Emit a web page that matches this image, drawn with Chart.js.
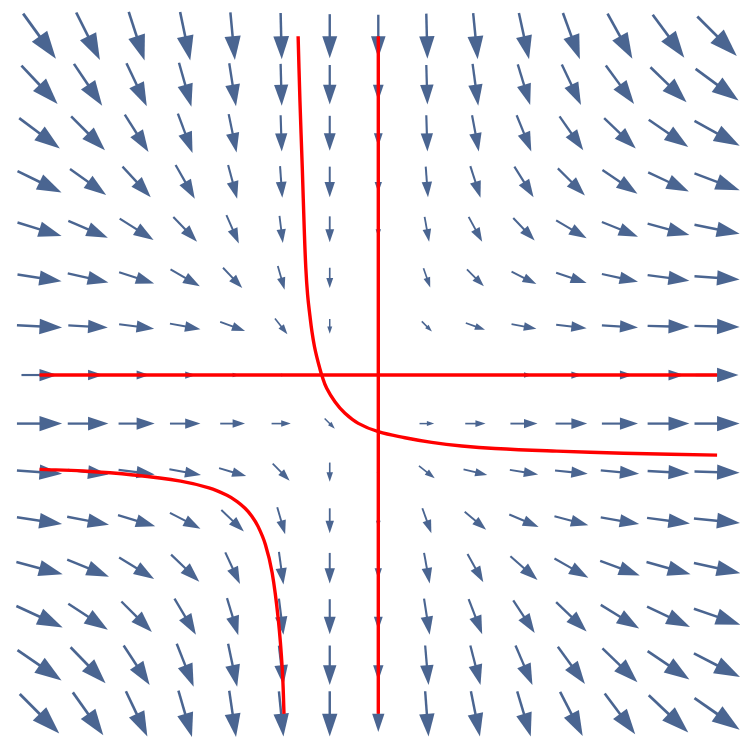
<!DOCTYPE html>
<html>
<head>
<meta charset="utf-8">
<title>Vector field</title>
<script src="https://cdn.jsdelivr.net/npm/chart.js@4.4.1/dist/chart.umd.min.js"></script>
<style>
  html, body { margin: 0; padding: 0; background: #ffffff; }
  #wrap { width: 740px; height: 740px; }
</style>
</head>
<body>
<div id="wrap"><canvas id="field" width="740" height="740"></canvas></div>
<script>
// sample positions of the arrow grid (x left to right, y top to bottom)
var gridX = [-3, -2.57, -2.14, -1.71, -1.29, -0.86, -0.43, 0, 0.43, 0.86, 1.29, 1.71, 2.14, 2.57, 3];
var gridY = [3, 2.57, 2.14, 1.71, 1.29, 0.86, 0.43, 0, -0.43, -0.86, -1.29, -1.71, -2.14, -2.57, -3];

// arrow components per grid point, one row per gridY entry
var fieldU = [
    [0.29, 0.21, 0.14, 0.09, 0.04, 0.01, 0, 0, 0.01, 0.04, 0.09, 0.15, 0.22, 0.28, 0.35],
    [0.32, 0.25, 0.18, 0.11, 0.06, 0.01, 0, 0, 0.01, 0.05, 0.11, 0.17, 0.25, 0.32, 0.38],
    [0.36, 0.30, 0.21, 0.13, 0.07, 0.01, 0, 0, 0.01, 0.06, 0.13, 0.21, 0.28, 0.35, 0.40],
    [0.39, 0.32, 0.25, 0.17, 0.08, 0.02, 0, 0, 0.02, 0.09, 0.17, 0.24, 0.31, 0.36, 0.40],
    [0.39, 0.35, 0.30, 0.21, 0.11, 0.03, 0, 0, 0.04, 0.12, 0.19, 0.27, 0.32, 0.37, 0.40],
    [0.39, 0.36, 0.31, 0.26, 0.17, 0.06, 0, 0, 0.06, 0.15, 0.22, 0.27, 0.32, 0.37, 0.40],
    [0.40, 0.35, 0.31, 0.27, 0.22, 0.11, 0, 0, 0.09, 0.17, 0.22, 0.27, 0.32, 0.37, 0.40],
    [0.32, 0.27, 0.23, 0.19, 0.12, 0.08, 0, 0, 0.01, 0.02, 0.14, 0.19, 0.23, 0.28, 0.38],
    [0.40, 0.36, 0.32, 0.27, 0.22, 0.17, 0.09, 0, 0.13, 0.18, 0.24, 0.28, 0.32, 0.37, 0.40],
    [0.40, 0.36, 0.32, 0.28, 0.24, 0.15, 0, 0, 0.14, 0.21, 0.25, 0.29, 0.34, 0.37, 0.40],
    [0.40, 0.37, 0.33, 0.27, 0.20, 0.07, 0, 0, 0.08, 0.19, 0.26, 0.30, 0.34, 0.38, 0.41],
    [0.41, 0.37, 0.31, 0.25, 0.13, 0.04, 0, 0, 0.05, 0.14, 0.24, 0.30, 0.35, 0.39, 0.41],
    [0.41, 0.35, 0.27, 0.19, 0.10, 0.04, 0, 0, 0.05, 0.12, 0.19, 0.27, 0.34, 0.38, 0.41],
    [0.39, 0.31, 0.23, 0.15, 0.08, 0.04, 0, 0, 0.03, 0.09, 0.15, 0.24, 0.31, 0.37, 0.41],
    [0.35, 0.27, 0.19, 0.12, 0.06, 0.04, 0, 0, 0.03, 0.08, 0.12, 0.20, 0.27, 0.35, 0.40]
];
var fieldV = [
    [-0.40, -0.42, -0.43, -0.43, -0.42, -0.41, -0.39, -0.38, -0.40, -0.41, -0.41, -0.41, -0.40, -0.38, -0.35],
    [-0.34, -0.37, -0.38, -0.39, -0.38, -0.37, -0.35, -0.28, -0.35, -0.37, -0.36, -0.36, -0.34, -0.31, -0.28],
    [-0.27, -0.30, -0.33, -0.35, -0.34, -0.32, -0.31, -0.23, -0.32, -0.32, -0.32, -0.30, -0.27, -0.24, -0.22],
    [-0.19, -0.23, -0.27, -0.30, -0.30, -0.28, -0.27, -0.19, -0.27, -0.28, -0.27, -0.24, -0.21, -0.17, -0.15],
    [-0.12, -0.15, -0.19, -0.22, -0.25, -0.24, -0.23, -0.14, -0.22, -0.22, -0.20, -0.16, -0.13, -0.10, -0.08],
    [-0.06, -0.08, -0.10, -0.15, -0.18, -0.21, -0.18, -0.03, -0.17, -0.15, -0.11, -0.09, -0.07, -0.05, -0.03],
    [-0.02, -0.02, -0.04, -0.05, -0.08, -0.14, -0.13, 0, -0.09, -0.06, -0.04, -0.03, -0.02, -0.01, -0.01],
    [0, 0, 0, 0, 0, 0, 0, 0, 0, 0, 0, 0, 0, 0, 0],
    [0, 0, 0, 0, 0, 0, -0.09, 0, 0, 0, 0, 0, 0, 0, 0],
    [-0.03, -0.04, -0.04, -0.05, -0.07, -0.15, -0.17, -0.08, -0.11, -0.05, -0.04, -0.03, -0.03, -0.02, -0.01],
    [-0.06, -0.07, -0.10, -0.14, -0.19, -0.24, -0.22, -0.12, -0.22, -0.16, -0.11, -0.08, -0.06, -0.05, -0.04],
    [-0.11, -0.15, -0.19, -0.24, -0.28, -0.29, -0.27, -0.19, -0.27, -0.25, -0.21, -0.17, -0.13, -0.11, -0.09],
    [-0.19, -0.23, -0.27, -0.32, -0.33, -0.32, -0.31, -0.23, -0.32, -0.31, -0.29, -0.26, -0.21, -0.18, -0.14],
    [-0.27, -0.32, -0.35, -0.38, -0.38, -0.35, -0.35, -0.27, -0.35, -0.35, -0.35, -0.33, -0.30, -0.25, -0.21],
    [-0.35, -0.38, -0.40, -0.41, -0.41, -0.40, -0.40, -0.32, -0.40, -0.40, -0.40, -0.39, -0.36, -0.33, -0.28]
];

// red overlay curves
var axisLineX = [-3, 3];
var axisLineY = [-3, 3];
var upperCurveX = [-0.71, -0.694, -0.673, -0.656, -0.642, -0.626, -0.605, -0.587, -0.565, -0.542, -0.521, -0.501, -0.457, -0.384, -0.295, -0.177, 0, 0.236, 0.473, 0.739, 1.034, 1.58, 2.17, 3.0];
var upperCurveY = [3.0, 2.43, 1.83, 1.3, 0.95, 0.71, 0.52, 0.38, 0.25, 0.15, 0.07, 0, -0.118, -0.236, -0.339, -0.428, -0.502, -0.555, -0.596, -0.628, -0.651, -0.674, -0.692, -0.709];
var lowerCurveX = [-3.0, -2.61, -2.17, -1.75, -1.5, -1.34, -1.25, -1.18, -1.12, -1.065, -1.0, -0.94, -0.885, -0.85, -0.835];
var lowerCurveY = [-0.835, -0.85, -0.885, -0.94, -1.0, -1.065, -1.12, -1.18, -1.25, -1.34, -1.5, -1.75, -2.17, -2.61, -3.0];

var arrowColor = "#4a6591";
var curveColor = "#ff0000";

function toPoints(xs, ys) {
    var pts = [];
    for (var i = 0; i < xs.length; i++) {
        pts.push({x: xs[i], y: ys[i]});
    }
    return pts;
}

function redLine(points, tension) {
    return {
        data: points,
        showLine: true,
        borderColor: curveColor,
        borderWidth: 3.4,
        pointRadius: 0,
        fill: false,
        tension: tension
    };
}

// arrows go under the red lines
var arrowPlugin = {
    id: 'arrowField',
    beforeDatasetsDraw: function (chart) {
        var ctx = chart.ctx;
        var sx = chart.scales.x;
        var sy = chart.scales.y;
        ctx.save();
        ctx.fillStyle = arrowColor;
        ctx.strokeStyle = arrowColor;
        ctx.lineCap = 'butt';
        ctx.lineJoin = 'miter';
        for (var r = 0; r < gridY.length; r++) {
            for (var c = 0; c < gridX.length; c++) {
                var u = fieldU[r][c];
                var v = fieldV[r][c];
                var x0 = sx.getPixelForValue(gridX[c] - u / 2);
                var y0 = sy.getPixelForValue(gridY[r] - v / 2);
                var x1 = sx.getPixelForValue(gridX[c] + u / 2);
                var y1 = sy.getPixelForValue(gridY[r] + v / 2);
                var dx = x1 - x0, dy = y1 - y0;
                var len = Math.sqrt(dx * dx + dy * dy);
                if (len < 1) continue;
                var ux = dx / len, uy = dy / len;
                var headLen = 0.5 * len;
                var headW = 0.17 * len;
                var bx = x1 - ux * headLen;
                var by = y1 - uy * headLen;

                ctx.lineWidth = 1.0 + 0.032 * len;
                ctx.beginPath();
                ctx.moveTo(x0, y0);
                ctx.lineTo(bx + ux * 2, by + uy * 2);
                ctx.stroke();

                ctx.beginPath();
                ctx.moveTo(x1, y1);
                ctx.lineTo(bx - uy * headW, by + ux * headW);
                ctx.lineTo(bx + uy * headW, by - ux * headW);
                ctx.closePath();
                ctx.fill();
            }
        }
        ctx.restore();
    }
};

var chart = new Chart(document.getElementById("field"), {
    type: 'scatter',
    data: {
        datasets: [
            redLine(toPoints(axisLineX, [0, 0]), 0),
            redLine(toPoints([0, 0], axisLineY), 0),
            redLine(toPoints(upperCurveX, upperCurveY), 0.4),
            redLine(toPoints(lowerCurveX, lowerCurveY), 0.4)
        ]
    },
    options: {
        responsive: false,
        animation: false,
        layout: { padding: 0 },
        plugins: {
            legend: { display: false },
            tooltip: { enabled: false }
        },
        scales: {
            x: { type: 'linear', min: -3.35, max: 3.203, display: false },
            y: { type: 'linear', min: -3.2315, max: 3.3205, display: false }
        }
    },
    plugins: [arrowPlugin]
});
</script>
</body>
</html>
